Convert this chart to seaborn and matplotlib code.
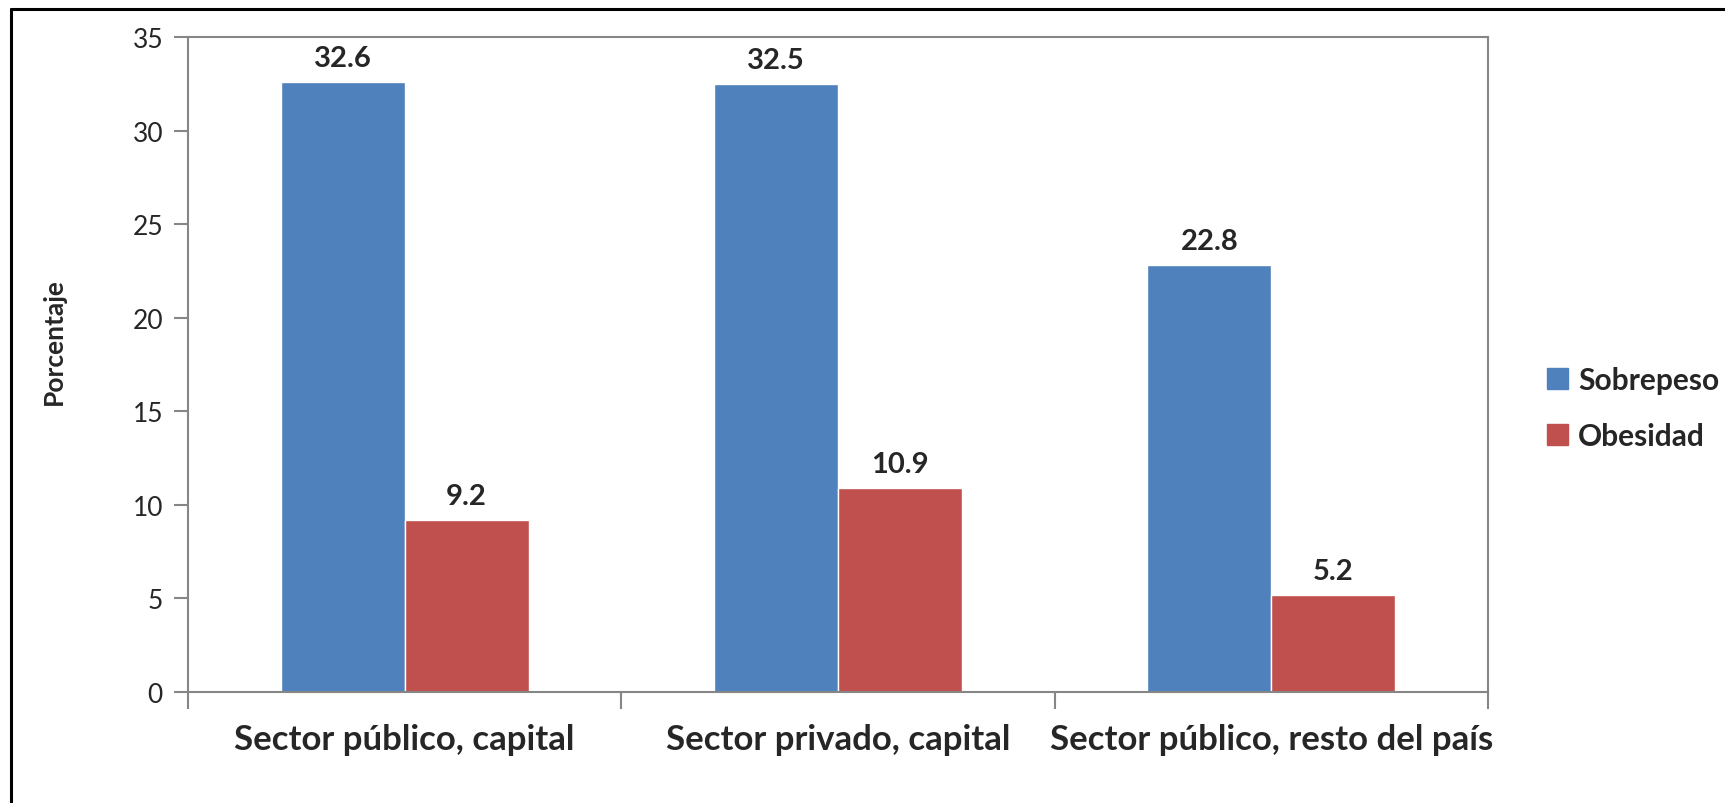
import pandas as pd
import matplotlib
import matplotlib.pyplot as plt
import seaborn as sns
from matplotlib.lines import Line2D

# datos del gráfico
categorias = ['Sector público, capital', 'Sector privado, capital', 'Sector público, resto del país']
sobrepeso = [32.6, 32.5, 22.8]
obesidad = [9.2, 10.9, 5.2]
series = ['Sobrepeso', 'Obesidad']
y_ticks = [0, 5, 10, 15, 20, 25, 30, 35]

data = pd.DataFrame({
    'Sector': categorias * 2,
    'Serie': [series[0]] * 3 + [series[1]] * 3,
    'Valor': sobrepeso + obesidad,
})

sns.set_style('white')
matplotlib.rcParams['font.family'] = ['Lato', 'DejaVu Sans']

fig = plt.figure(figsize=(17.25, 8.04), dpi=100)
ax = fig.add_axes([188 / 1725, 1 - 693 / 804, 1300 / 1725, 655 / 804])

sns.barplot(data=data, x='Sector', y='Valor', hue='Serie', order=categorias,
            hue_order=series, palette=['#4F81BD', '#C0504D'], width=0.572,
            saturation=1, ax=ax, legend=False)

for cont in ax.containers:
    ax.bar_label(cont, fmt='%.1f', padding=8, fontsize=21, fontweight='bold')

ax.set_xlim(-0.5, 2.5)
ax.set_ylim(0, 35)
ax.set_yticks(y_ticks)
ax.set_yticklabels([str(t) for t in y_ticks], fontsize=19)
ax.set_xticks([0, 1, 2])
ax.set_xticklabels(categorias, fontsize=25, fontweight='bold')
ax.tick_params(axis='x', length=0, pad=22)
ax.tick_params(axis='y', length=10, width=1.5, color='#868686', pad=8, left=True)

# marcas del eje x entre categorías
ax.set_xticks([-0.5, 0.5, 1.5, 2.5], minor=True)
ax.tick_params(axis='x', which='minor', length=12, width=1.5, color='#868686', bottom=True)

for s in ax.spines.values():
    s.set_visible(True)
    s.set_color('#868686')
    s.set_linewidth(1.5)

ax.set_xlabel('')
ax.set_ylabel('Porcentaje', fontsize=19, fontweight='bold')
ax.yaxis.set_label_coords(-0.094, 0.536)

handles = [plt.Rectangle((0, 0), 1, 1, color='#4F81BD'),
           plt.Rectangle((0, 0), 1, 1, color='#C0504D')]
fig.legend(handles, series, loc='center left', bbox_to_anchor=(1520 / 1725, 1 - 409 / 804),
           frameon=False, prop={'size': 21.5, 'weight': 'bold'},
           handlelength=0.7, handleheight=0.7, handletextpad=0.35, labelspacing=0.95)

# marco exterior
fig.add_artist(Line2D([11 / 1725, 1], [1 - 10 / 804, 1 - 10 / 804], color='black', lw=2.2))
fig.add_artist(Line2D([11 / 1725, 11 / 1725], [0, 1 - 10 / 804], color='black', lw=2.2))

plt.savefig('out.png', dpi=100)
